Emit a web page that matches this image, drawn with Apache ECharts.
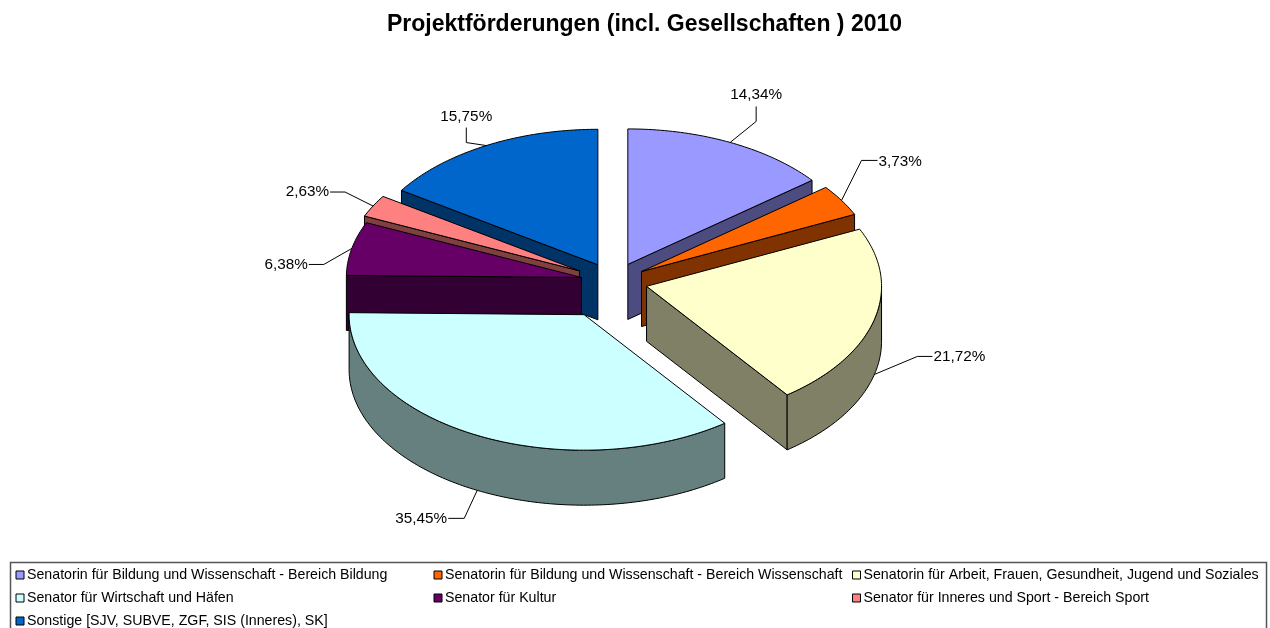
<!DOCTYPE html>
<html>
<head>
<meta charset="utf-8">
<style>
  html, body { margin: 0; padding: 0; background: #fff; }
  #chart { width: 1270px; height: 628px; }
</style>
<script src="https://cdn.jsdelivr.net/npm/echarts@6/dist/echarts.min.js"></script>
</head>
<body>
<div id="chart"></div>
<script>
const categories = [
  'Senatorin für Bildung und Wissenschaft - Bereich Bildung',
  'Senatorin für Bildung und Wissenschaft - Bereich Wissenschaft',
  'Senatorin für Arbeit, Frauen, Gesundheit, Jugend und Soziales',
  'Senator für Wirtschaft und Häfen',
  'Senator für Kultur',
  'Senator für Inneres und Sport - Bereich Sport',
  'Sonstige [SJV, SUBVE, ZGF, SIS (Inneres), SK]'
]
const shares = [14.34, 3.73, 21.72, 35.45, 6.38, 2.63, 15.75]
const topColors = ['#9999FF', '#FF6600', '#FFFFCC', '#CCFFFF', '#660066', '#FF8080', '#0066CC']
const sideColors = ['#4C4C80', '#803300', '#808066', '#668080', '#330033', '#804040', '#003366']
// explosion of each slice, as a share of the radius
const explode = [0.14, 0.14, 0.145, 0.275, 0.14, 0.165, 0.14]

// pie geometry
const centerX = 613.5
const centerY = 281.5
const radiusX = 235
const radiusY = 135.5
const depth = 55

// label leader: elbow and end relative to the slice edge, then text anchor after the end
const leaders = [
  { elbow: [26, -21], end: [26, -36], text: [0, -12], align: 'center' },
  { elbow: [20, -40], end: [36, -40], text: [1, 1], align: 'left' },
  { elbow: [43, -18], end: [58, -18], text: [1, 0], align: 'left' },
  { elbow: [-13, 28], end: [-29, 28], text: [-1, 0], align: 'right' },
  { elbow: [-28, 16], end: [-43, 16], text: [-1, 0], align: 'right' },
  { elbow: [-28, -14], end: [-43, -14], text: [-1, 0], align: 'right' },
  { elbow: [-20, -3], end: [-20, -18], text: [0, -11], align: 'center' }
]

const total = shares.reduce((a, b) => a + b, 0)
const rad = d => d * Math.PI / 180

function sliceAngles(i) {
  const start = shares.slice(0, i).reduce((a, b) => a + b, 0) / total * 360
  return [start, start + shares[i] / total * 360]
}

function arc(cx, cy, from, to) {
  const pts = []
  const steps = Math.max(2, Math.ceil(to - from))
  for (let k = 0; k <= steps; k++) {
    const t = rad(from + (to - from) * k / steps)
    pts.push([cx + radiusX * Math.sin(t), cy - radiusY * Math.cos(t)])
  }
  return pts
}

function renderSlice(i) {
  const [start, end] = sliceAngles(i)
  const mid = (start + end) / 2
  const cx = centerX + explode[i] * radiusX * Math.sin(rad(mid))
  const cy = centerY - explode[i] * radiusY * Math.cos(rad(mid))
  const line = { stroke: '#000', lineWidth: 1, lineJoin: 'round' }
  const side = Object.assign({ fill: sideColors[i] }, line)
  const children = []

  // radial wall facing the viewer
  const wallAngle = rad(mid < 180 ? end : start)
  if (start < 180 ? end <= 180 : true) {
    const ox = cx + radiusX * Math.sin(wallAngle)
    const oy = cy - radiusY * Math.cos(wallAngle)
    children.push({
      type: 'polygon',
      shape: { points: [[cx, cy], [ox, oy], [ox, oy + depth], [cx, cy + depth]] },
      style: side
    })
  }
  // curved outer wall, only the front half of the ellipse
  const from = Math.max(start, 90)
  const to = Math.min(end, 270)
  if (to > from) {
    const upper = arc(cx, cy, from, to)
    const lower = arc(cx, cy + depth, from, to).reverse()
    children.push({ type: 'polygon', shape: { points: upper.concat(lower) }, style: side })
  }
  // top face
  children.push({
    type: 'polygon',
    shape: { points: [[cx, cy]].concat(arc(cx, cy, start, end)) },
    style: Object.assign({ fill: topColors[i] }, line)
  })

  // leader line and percent label
  const ax = cx + radiusX * Math.sin(rad(mid))
  const ay = cy - radiusY * Math.cos(rad(mid)) + (Math.cos(rad(mid)) < 0 ? depth : 0)
  const l = leaders[i]
  const endX = ax + l.end[0]
  const endY = ay + l.end[1]
  children.push({
    type: 'polyline',
    shape: { points: [[ax, ay], [ax + l.elbow[0], ay + l.elbow[1]], [endX, endY]] },
    style: { stroke: '#000', lineWidth: 1, fill: null }
  })
  children.push({
    type: 'text',
    style: {
      x: endX + l.text[0],
      y: endY + l.text[1],
      text: shares[i].toFixed(2).replace('.', ',') + '%',
      fill: '#000',
      font: '15.3px "Liberation Sans"',
      textAlign: l.align,
      textVerticalAlign: 'middle'
    }
  })
  return { type: 'group', children }
}

// far slices first, near slices paint over them
const drawOrder = categories.map((_, i) => i).sort((a, b) => {
  const midOf = k => rad((sliceAngles(k)[0] + sliceAngles(k)[1]) / 2)
  return Math.cos(midOf(b)) - Math.cos(midOf(a))
})

const chart = echarts.init(document.getElementById('chart'), null, { renderer: 'canvas' })

chart.setOption({
  animation: false,
  title: {
    text: 'Projektförderungen (incl. Gesellschaften ) 2010',
    left: 639.5,
    top: 8,
    textAlign: 'center',
    textStyle: { fontFamily: 'Liberation Sans', fontSize: 23, fontWeight: 'bold', color: '#000' }
  },
  graphic: [{
    type: 'rect',
    silent: true,
    z: -1,
    shape: { x: 10.5, y: 562.5, width: 1256, height: 80 },
    style: { fill: '#fff', stroke: '#555', lineWidth: 1.5 }
  }],
  legend: categories.map((name, i) => ({
    data: [name],
    left: [15.5, 433.5, 852][i % 3],
    top: [568, 591, 614][Math.floor(i / 3)],
    padding: 0,
    icon: 'rect',
    itemWidth: 8,
    itemHeight: 8,
    selectedMode: false,
    itemStyle: { borderColor: '#000', borderWidth: 1 },
    textStyle: { fontFamily: 'Liberation Sans', fontSize: 14.2, color: '#000', padding: [0, 0, 0, -2] }
  })),
  series: categories.map((name, i) => ({
    type: 'custom',
    name,
    coordinateSystem: 'none',
    silent: true,
    z: 2 + drawOrder.indexOf(i),
    itemStyle: { color: topColors[i] },
    data: [[shares[i]]],
    renderItem: () => renderSlice(i)
  }))
})
</script>
</body>
</html>
